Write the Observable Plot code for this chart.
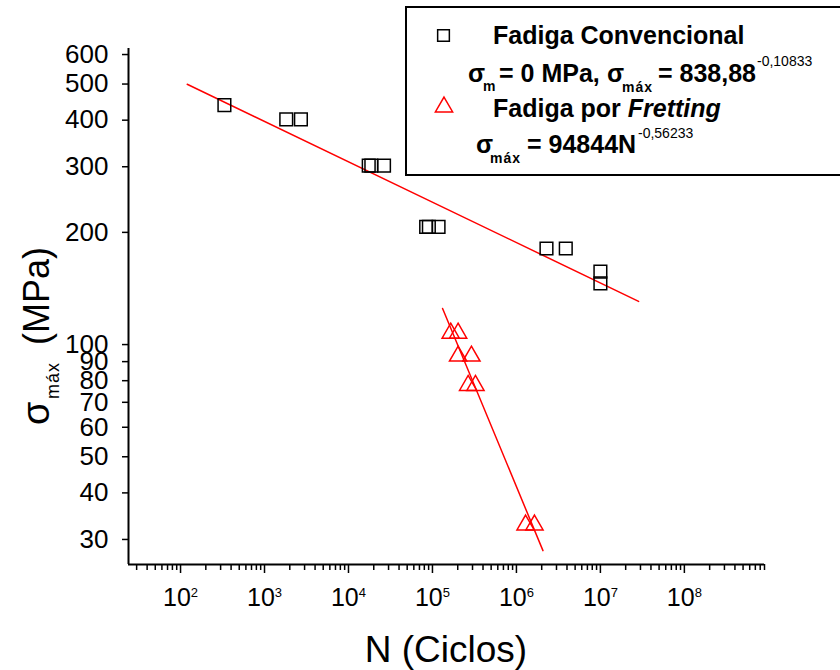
<!DOCTYPE html>
<html><head><meta charset="utf-8">
<script src="https://cdn.jsdelivr.net/npm/d3@7"></script>
<script src="https://cdn.jsdelivr.net/npm/@observablehq/plot@0.6"></script>
<style>
body{margin:0;background:#fff;}
#chart{position:relative;width:840px;height:670px;overflow:hidden;}
</style>
</head><body><div id="chart"></div>
<script>
// Conventional fatigue (squares)
const convN = [333, 1815, 2713, 17420, 18700, 26500, 84100, 90600, 118200, 2.28e6, 3.87e6, 1e7, 1e7];
const convS = [439, 402, 402, 302, 302, 302, 207, 207, 207, 181, 181, 157, 146];
// Fretting fatigue (triangles)
const fretN = [1.65e5, 2.02e5, 2.02e5, 2.91e5, 2.66e5, 3.25e5, 1.285e6, 1.64e6];
const fretS = [107.3, 107.3, 93.1, 93.1, 77.7, 77.7, 32.8, 32.8];
// Fitted lines (end points)
const fitConvN = [120, 2.85e7];
const fitConvS = [499.5, 130.6];
const fitFretN = [1.32e5, 2.07e6];
const fitFretS = [125, 28];
// Axis ticks
const yTicks = [30, 40, 50, 60, 70, 80, 90, 100, 200, 300, 400, 500, 600];
const xMajor = [1e2, 1e3, 1e4, 1e5, 1e6, 1e7, 1e8];
const xMinorMult = [2, 3, 4, 5, 6, 7, 8, 9];
const xDecades = [1e1, 1e2, 1e3, 1e4, 1e5, 1e6, 1e7, 1e8];
const xDomain = [24, 9e8];
const yDomain = [25.7, 622.8];

const xMinor = xDecades.flatMap(d => xMinorMult.map(m => d * m)).filter(v => v >= xDomain[0] && v <= xDomain[1]);
const conv = convN.map((n, i) => ({n, s: convS[i]}));
const fret = fretN.map((n, i) => ({n, s: fretS[i]}));
const fitConv = fitConvN.map((n, i) => ({n, s: fitConvS[i]}));
const fitFret = fitFretN.map((n, i) => ({n, s: fitFretS[i]}));

const FONT = "'Liberation Sans', Arial, Helvetica, sans-serif";

const svg = Plot.plot({
  width: 840, height: 670,
  marginLeft: 128, marginRight: 76, marginTop: 48, marginBottom: 106,
  style: {fontFamily: FONT, background: "white", color: "black", overflow: "visible"},
  x: {type: "log", domain: xDomain},
  y: {type: "log", domain: yDomain},
  marks: [
    ...yTicks.map(t => Plot.axisY([t], {tickSize: 6, tickPadding: 14, fontSize: 26, strokeWidth: 1.5, tickFormat: d => String(d), label: null})),
    Plot.axisX({ticks: xMinor, tickSize: 6, strokeWidth: 1.5, tickFormat: () => "", label: null}),
    Plot.axisX({ticks: xMajor, tickSize: 9, tickPadding: 15, fontSize: 25, strokeWidth: 1.5, tickFormat: d => "10^" + Math.round(Math.log10(d)), label: null}),
    Plot.ruleX([xDomain[0]], {stroke: "black", strokeWidth: 2}),
    Plot.ruleY([yDomain[0]], {stroke: "black", strokeWidth: 2}),
    Plot.line(fitConv, {x: "n", y: "s", stroke: "#ff0000", strokeWidth: 1.5}),
    Plot.line(fitFret, {x: "n", y: "s", stroke: "#ff0000", strokeWidth: 1.5}),
    Plot.dot(conv, {x: "n", y: "s", symbol: "square", r: 7.15, stroke: "#000", strokeWidth: 1.5, fill: "none"}),
    Plot.dot(fret, {x: "n", y: "s", symbol: "triangle", r: 6.4, stroke: "#ff0000", strokeWidth: 1.5, fill: "none"})
  ]
});
document.getElementById("chart").appendChild(svg);

const s = d3.select(svg);
// superscript exponents on x tick labels
s.selectAll('g[aria-label="x-axis tick label"] text').each(function() {
  const t = d3.select(this);
  const txt = t.text();
  if (!txt.includes("^")) return;
  const [b, e] = txt.split("^");
  t.text(null);
  t.append("tspan").text(b);
  t.append("tspan").attr("dy", -9).attr("font-size", 13).text(e);
});

// axis titles
s.append("text").attr("x", 446).attr("y", 662).attr("text-anchor", "middle")
  .attr("font-family", FONT).attr("font-size", 37).attr("fill", "black").text("N (Ciclos)");
const yl = s.append("text").attr("transform", "translate(49,425) rotate(-90)").attr("text-anchor", "start")
  .attr("font-family", FONT).attr("font-size", 36).attr("fill", "black");
yl.append("tspan").attr("x", 0).attr("font-size", 38).text("σ");
yl.append("tspan").attr("x", 26).attr("dy", 10).attr("font-size", 18).attr("letter-spacing", 1).text("máx");
yl.append("tspan").attr("x", 80).attr("dy", -10).text("(MPa)");

// legend
const lg = s.append("g").attr("font-family", FONT).attr("font-weight", "bold").attr("fill", "black").attr("text-anchor", "start");
lg.append("rect").attr("x", 406).attr("y", 7).attr("width", 470).attr("height", 168)
  .attr("fill", "white").attr("stroke", "black").attr("stroke-width", 2);
lg.append("path").attr("d", d3.symbol(d3.symbolSquare, 137)()).attr("transform", "translate(443.5,35.5)")
  .attr("fill", "none").attr("stroke", "black").attr("stroke-width", 1.5);
lg.append("path").attr("d", d3.symbol(d3.symbolTriangle, 129)()).attr("transform", "translate(444,107)")
  .attr("fill", "none").attr("stroke", "#ff0000").attr("stroke-width", 1.5);
const T = (x, y, size, txt, extra) => {
  const e = lg.append("text").attr("x", x).attr("y", y).attr("font-size", size).attr("text-anchor", "start").text(txt);
  if (extra) extra(e);
  return e;
};
T(493, 44, 25, "Fadiga Convencional");
T(468, 82, 25, "σ");
T(483, 91, 14, "m");
T(499, 82, 25, "= 0 MPa,");
T(607, 82, 25, "σ");
T(622, 92, 14, "máx", e => e.attr("letter-spacing", 1));
T(658, 82, 25, "= 838,88");
T(757, 66, 14, "-0,10833", e => e.attr("font-weight", "normal"));
const f = T(493, 117, 25, "Fadiga por ");
f.append("tspan").attr("font-style", "italic").text("Fretting");
T(476, 153, 25, "σ");
T(490, 163, 14, "máx", e => e.attr("letter-spacing", 1));
T(527, 153, 25, "= 94844N");
T(638, 138, 14, "-0,56233", e => e.attr("font-weight", "normal"));
</script>
</body></html>
